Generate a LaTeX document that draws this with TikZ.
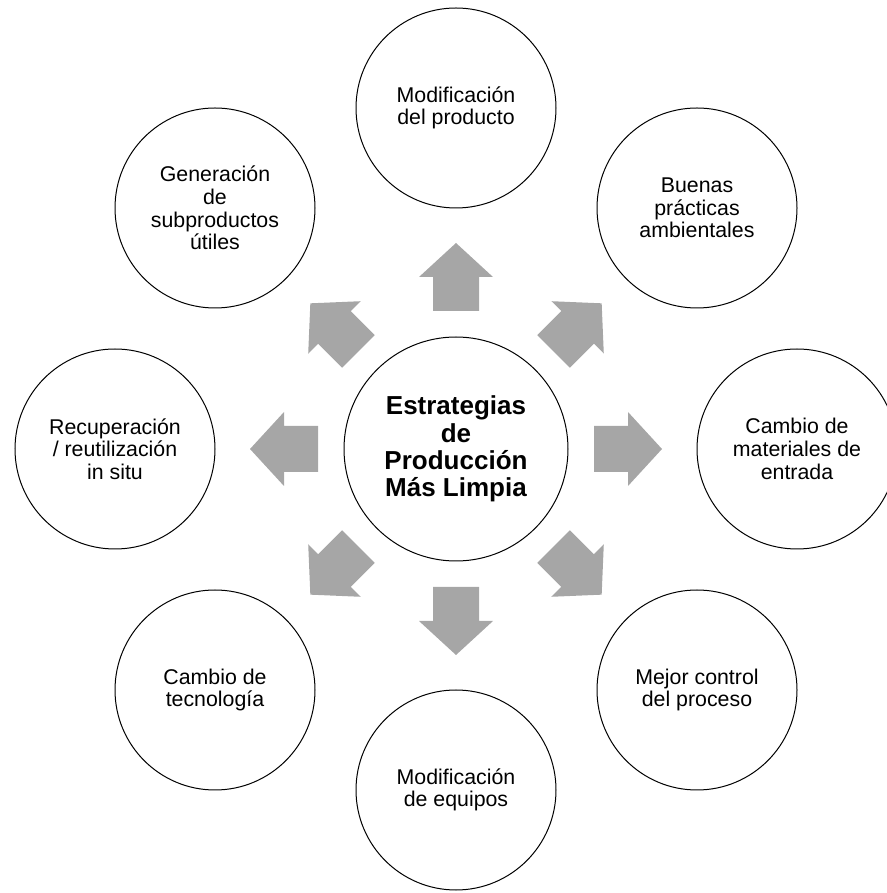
\documentclass[tikz,border=0pt]{standalone}
\usepackage{fontspec}
\setmainfont{Liberation Sans}
\usetikzlibrary{calc}
\definecolor{arrowgray}{RGB}{166,166,166}

\begin{document}
\begin{tikzpicture}[x=0.75pt, y=0.75pt,
  every node/.style={font=\fontsize{16}{17}\selectfont},
  idea/.style={draw, circle, line width=0.75pt, minimum size=150pt, inner sep=0pt, align=center},
  hubnode/.style={idea, minimum size=168pt, font=\bfseries\fontsize{19.5}{20.5}\selectfont},
  blockarrow/.style={fill=arrowgray}]
  \useasboundingbox (0,0) rectangle (887,893);
  \node[hubnode] (hub) at (456,444) {Estrategias\\de\\Producción\\Más Limpia};
  \node[idea] (producto) at (456,785) {Modificación\\del producto};
  \node[idea] (practicas) at (697,685) {Buenas\\prácticas\\ambientales};
  \node[idea] (materiales) at (797,444) {Cambio de\\materiales de\\entrada};
  \node[idea] (control) at (697,203) {Mejor control\\del proceso};
  \node[idea] (equipos) at (456,103) {Modificación\\de equipos};
  \node[idea] (tecnologia) at (215,203) {Cambio de\\tecnología};
  \node[idea] (recuperacion) at (115,444) {Recuperación\\/ reutilización\\in situ};
  \node[idea] (subproductos) at (215,685) {Generación\\de\\subproductos\\útiles};
  % block arrows from the hub outwards
  \foreach \a in {0,45,...,315}
    \fill[blockarrow, shift={(hub.center)}, rotate=\a]
      (138,-23) -- (172,-23) -- (172,-37) -- (206,0) -- (172,37) -- (172,23) -- (138,23) -- cycle;
\end{tikzpicture}
\end{document}
